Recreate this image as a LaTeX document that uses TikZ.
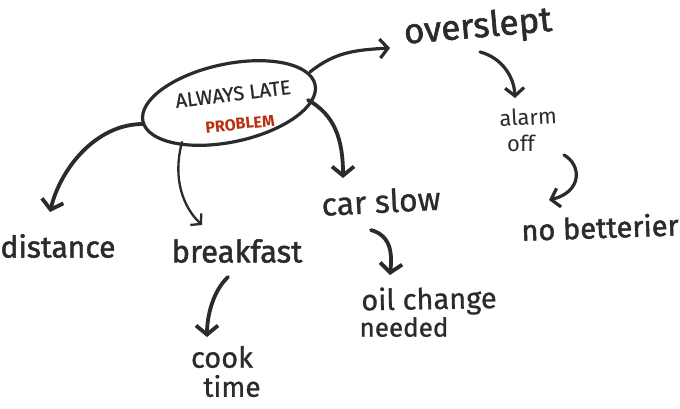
\documentclass[tikz,border=0pt]{standalone}
\usepackage{fontspec}
\setmainfont{Fira Sans}
\newfontfamily\hvfont{Fira Sans}[FakeBold=1.6]
\newfontfamily\mdfont{Fira Sans}[FakeBold=0.8]
\usetikzlibrary{arrows.meta,shapes.geometric}
\definecolor{ink}{HTML}{2B2B2B}
\definecolor{redink}{HTML}{B8300E}
\begin{document}
\begin{tikzpicture}[x=1pt,y=-1pt,line cap=round,line join=round,
  lbl/.style={inner sep=0pt,text=ink},
  heavy/.style={draw=ink,line width=3.8pt,-{Straight Barb[length=9pt,width=22pt]}},
  medium/.style={draw=ink,line width=3.2pt,-{Straight Barb[length=8pt,width=19pt]}},
  light/.style={draw=ink,line width=2.3pt,-{Straight Barb[length=7pt,width=16pt]}}]
\useasboundingbox (0,0) rectangle (680,408);
\fill[white] (0,0) rectangle (680,408);
% central ellipse
\coordinate (problem) at (229,103);
\draw[draw=ink,line width=3.2pt,rotate around={12:(problem)}] (problem) ellipse [x radius=88pt, y radius=39pt];
\node[lbl,rotate=7,font=\mdfont\fontsize{20}{22}\selectfont] (always) at (233,94) {ALWAYS LATE};
\node[lbl,rotate=6,text=redink,font=\bfseries\fontsize{16}{18}\selectfont] (prob) at (240,124) {PROBLEM};
% labels
\node[lbl,rotate=5,font=\hvfont\fontsize{35}{37}\selectfont] (overslept) at (478,28) {overslept};
\node[lbl,rotate=3,font=\fontsize{22}{24}\selectfont] (alarm) at (528,117) {alarm};
\node[lbl,font=\fontsize{22}{24}\selectfont] (off) at (521,143) {off};
\node[lbl,rotate=2,font=\hvfont\fontsize{29}{31}\selectfont] (nobat) at (600,227) {no betterier};
\node[lbl,rotate=3,font=\mdfont\fontsize{32}{34}\selectfont] (car) at (381,201) {car slow};
\node[lbl,rotate=1,font=\mdfont\fontsize{29}{31}\selectfont] (oil) at (429,301) {oil change};
\node[lbl,font=\mdfont\fontsize{26}{28}\selectfont] (needed) at (404,327) {needed};
\node[lbl,font=\hvfont\fontsize{31}{33}\selectfont] (breakfast) at (237,251) {breakfast};
\node[lbl,font=\hvfont\fontsize{30}{32}\selectfont] (distance) at (58,246) {distance};
\node[lbl,font=\mdfont\fontsize{29}{31}\selectfont] (cook) at (222,357) {cook};
\node[lbl,font=\mdfont\fontsize{28}{30}\selectfont] (time) at (232,386) {time};
% connector ends
\coordinate (pOver) at (310,72);
\coordinate (tOver) at (390,48);
\coordinate (sAlarm) at (480,52);
\coordinate (tAlarm) at (515,98);
\coordinate (sBat) at (564,155);
\coordinate (tBat) at (549,200);
\coordinate (pCar) at (308,100);
\coordinate (tCar) at (343,178);
\coordinate (sOil) at (371,230);
\coordinate (tOil) at (390,275);
\coordinate (pBreak) at (182,142);
\coordinate (tBreak) at (202,225);
\coordinate (pDist) at (143,124);
\coordinate (tDist) at (50,212);
\coordinate (sCook) at (228,277);
\coordinate (tCook) at (207,337);
% connectors
\draw[medium] (pOver) .. controls (335,52) and (355,50) .. (tOver);
\draw[medium] (sAlarm) .. controls (500,57) and (514,75) .. (tAlarm);
\draw[medium] (sBat) .. controls (582,165) and (582,192) .. (tBat);
\draw[heavy] (pCar) .. controls (335,115) and (343,140) .. (tCar);
\draw[heavy] (sOil) .. controls (392,236) and (392,255) .. (tOil);
\draw[light] (pBreak) .. controls (172,180) and (184,208) .. (tBreak);
\draw[heavy] (pDist) .. controls (95,124) and (60,170) .. (tDist);
\draw[heavy] (sCook) .. controls (212,292) and (207,318) .. (tCook);
\end{tikzpicture}
\end{document}
